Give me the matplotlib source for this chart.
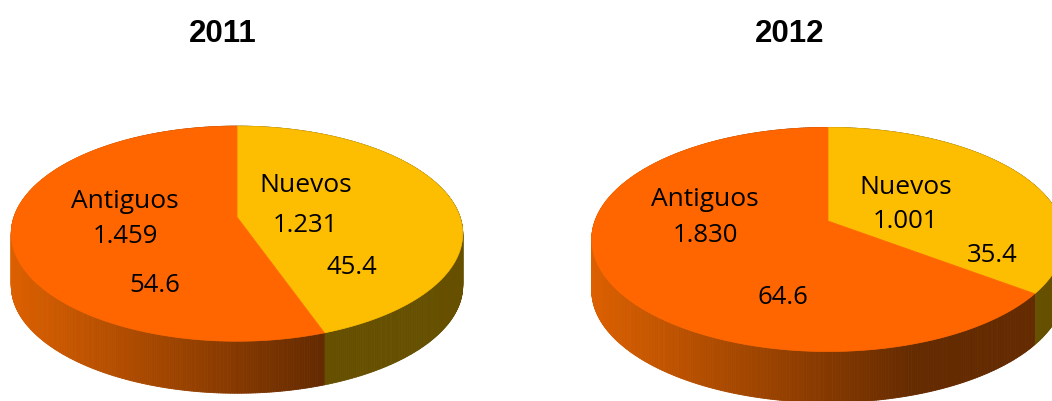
import numpy as np
import matplotlib
matplotlib.use("Agg")
import matplotlib.pyplot as plt
from matplotlib.collections import PolyCollection
from matplotlib.colors import to_rgb

years = ["2011", "2012"]
nuevos_pct = [45.4, 35.4]
antiguos_pct = [54.6, 64.6]
nuevos_n = ["1.231", "1.001"]
antiguos_n = ["1.459", "1.830"]

YELLOW = "#fdbd00"
ORANGE = "#ff6600"
SIDE_YELLOW = "#665000"
SIDE_LIGHT = "#dc6000"
SIDE_DARK = "#642a00"


def project(angle, cx, cy, a, b, k, r=1.0):
    """ map a clockwise-from-top angle on the pie to picture coordinates,
        with the front of the pie drawn larger than the back """
    x = r*np.sin(angle)
    y = r*np.cos(angle)
    w = 1.0 + k*y
    return cx + a*x/w, cy - b*y/w


def draw_pie(ax, nuevos, antiguos, cx, cy, a, b, k, depth, shift=0.0):
    total = nuevos + antiguos
    # shift is the small skew the 3d view puts on the dividing line, in degrees
    split = 2.0*np.pi*nuevos/total + np.radians(shift)

    # side wall first, in thin strips so the shading runs left to right
    th = np.linspace(0.0, 2.0*np.pi, 721)
    px, py = project(th, cx, cy, a, b, k)
    left, right = px.min(), px.max()
    strips = []
    colors = []
    for i in range(len(th) - 1):
        strips.append([(px[i], py[i]), (px[i+1], py[i+1]),
                       (px[i+1], py[i+1] + depth), (px[i], py[i] + depth)])
        if th[i] < split:
            colors.append(to_rgb(SIDE_YELLOW))
        else:
            f = min((px[i] - left)/(0.69*(right - left)), 1.0)
            c0 = np.array(to_rgb(SIDE_LIGHT))
            c1 = np.array(to_rgb(SIDE_DARK))
            colors.append(tuple(c0 + f*(c1 - c0)))
    ax.add_collection(PolyCollection(strips, facecolors=colors, edgecolors=colors,
                                     linewidths=0.6))

    # top face
    for start, end, color in [(0.0, split, YELLOW), (split, 2.0*np.pi, ORANGE)]:
        t = np.linspace(start, end, 300)
        x, y = project(t, cx, cy, a, b, k)
        ax.fill(np.r_[cx, x], np.r_[cy, y], color=color, lw=0.5)


fig = plt.figure(figsize=(10.52, 4.02), dpi=100)
ax = fig.add_axes([0, 0, 1, 1])
ax.set_xlim(0, 1052)
ax.set_ylim(402, 0)
ax.axis("off")

draw_pie(ax, nuevos_pct[0], antiguos_pct[0], 237, 218, 223, 105, 0.155, 52, shift=-3.0)
draw_pie(ax, nuevos_pct[1], antiguos_pct[1], 828, 222, 233, 109, 0.165, 51, shift=-0.5)

title = dict(family="Liberation Sans", fontweight="bold",
             fontsize=22.5, ha="center", va="center")
ax.text(222.5, 33.5, years[0], **title)
ax.text(790, 33.5, years[1], **title)

word = dict(family="Open Sans", fontsize=19, ha="center", va="center", color="black")
num = dict(family="Open Sans", fontsize=18.5, ha="center", va="center", color="black")
ax.text(124.5, 202, "Antiguos", **word)
ax.text(125.5, 237, antiguos_n[0], **num)
ax.text(154.5, 286, str(antiguos_pct[0]), **num)
ax.text(306, 186, "Nuevos", **word)
ax.text(305, 226, nuevos_n[0], **num)
ax.text(351.5, 268, str(nuevos_pct[0]), **num)

ax.text(705, 200, "Antiguos", **word)
ax.text(705.5, 236, antiguos_n[1], **num)
ax.text(783, 298, str(antiguos_pct[1]), **num)
ax.text(906, 188, "Nuevos", **word)
ax.text(905, 222, nuevos_n[1], **num)
ax.text(992.5, 256, str(nuevos_pct[1]), **num)

fig.savefig("out.png", dpi=100)
